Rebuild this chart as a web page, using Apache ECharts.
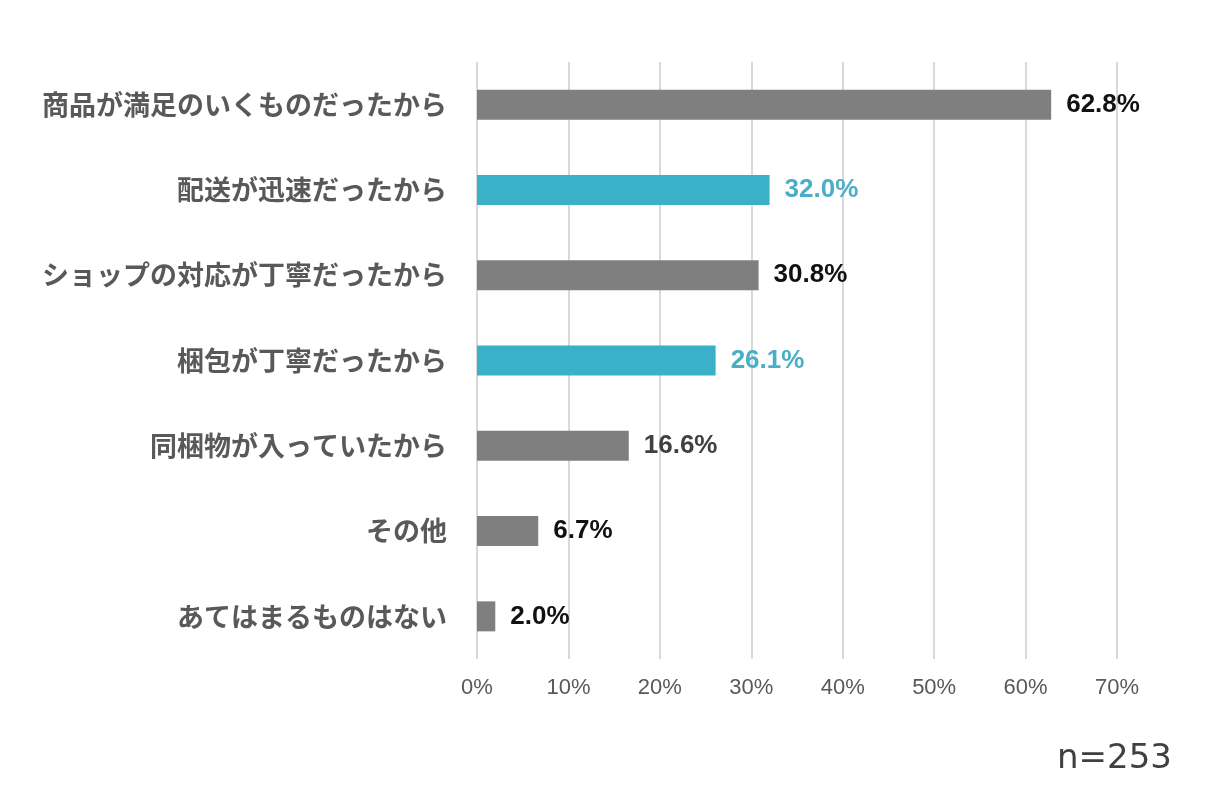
<!DOCTYPE html>
<html><head><meta charset="utf-8">
<script src="https://cdn.jsdelivr.net/npm/echarts@6/dist/echarts.min.js"></script>
<style>html,body{margin:0;padding:0;background:#fff}#c{width:1206px;height:796px}</style>
</head><body><div id="c"></div>
<script>
const categories = ["商品が満足のいくものだったから","配送が迅速だったから","ショップの対応が丁寧だったから","梱包が丁寧だったから","同梱物が入っていたから","その他","あてはまるものはない"];
const values = [62.8, 32.0, 30.8, 26.1, 16.6, 6.7, 2.0];
const highlighted = [false, true, false, true, false, false, false];
const labelColors = ["#111111","#4aaec6","#111111","#4aaec6","#404040","#111111","#111111"];
const xTicks = [0,10,20,30,40,50,60,70];
const sampleNote = "n=253";

const chart = echarts.init(document.getElementById('c'));
chart.setOption({
  backgroundColor:'#fff',
  animation:false,
  grid:{left:477,right:89,top:62,bottom:137,containLabel:false},
  xAxis:{type:'value',min:xTicks[0],max:xTicks[xTicks.length-1],interval:10,
    axisLine:{show:false},axisTick:{show:false},
    splitLine:{lineStyle:{color:'#d9d9d9',width:2}},
    axisLabel:{formatter:v=>v+'%',color:'#595959',fontSize:22,margin:18,fontFamily:'Liberation Sans, Arial, sans-serif'}
  },
  yAxis:{type:'category',inverse:true,data:categories,
    axisLine:{show:false},axisTick:{show:false},
    axisLabel:{color:'#595959',fontSize:27,fontWeight:'bold',margin:30,fontFamily:'Noto Sans CJK JP, sans-serif'}
  },
  series:[{type:'bar',barWidth:30,
    data:values.map((v,i)=>({value:v,
      itemStyle:{color:highlighted[i]?'#3bb0c9':'#7f7f7f'},
      label:{color:labelColors[i]}})),
    label:{show:true,position:'right',distance:15,formatter:p=>p.value.toFixed(1)+'%',
      fontSize:26,fontWeight:'bold',fontFamily:'Liberation Sans, Arial, sans-serif'}
  }],
  graphic:[{type:'text',right:34,top:742,style:{text:sampleNote,fontSize:34,fill:'#404040',fontFamily:'DejaVu Sans, sans-serif'}}]
});
</script></body></html>
